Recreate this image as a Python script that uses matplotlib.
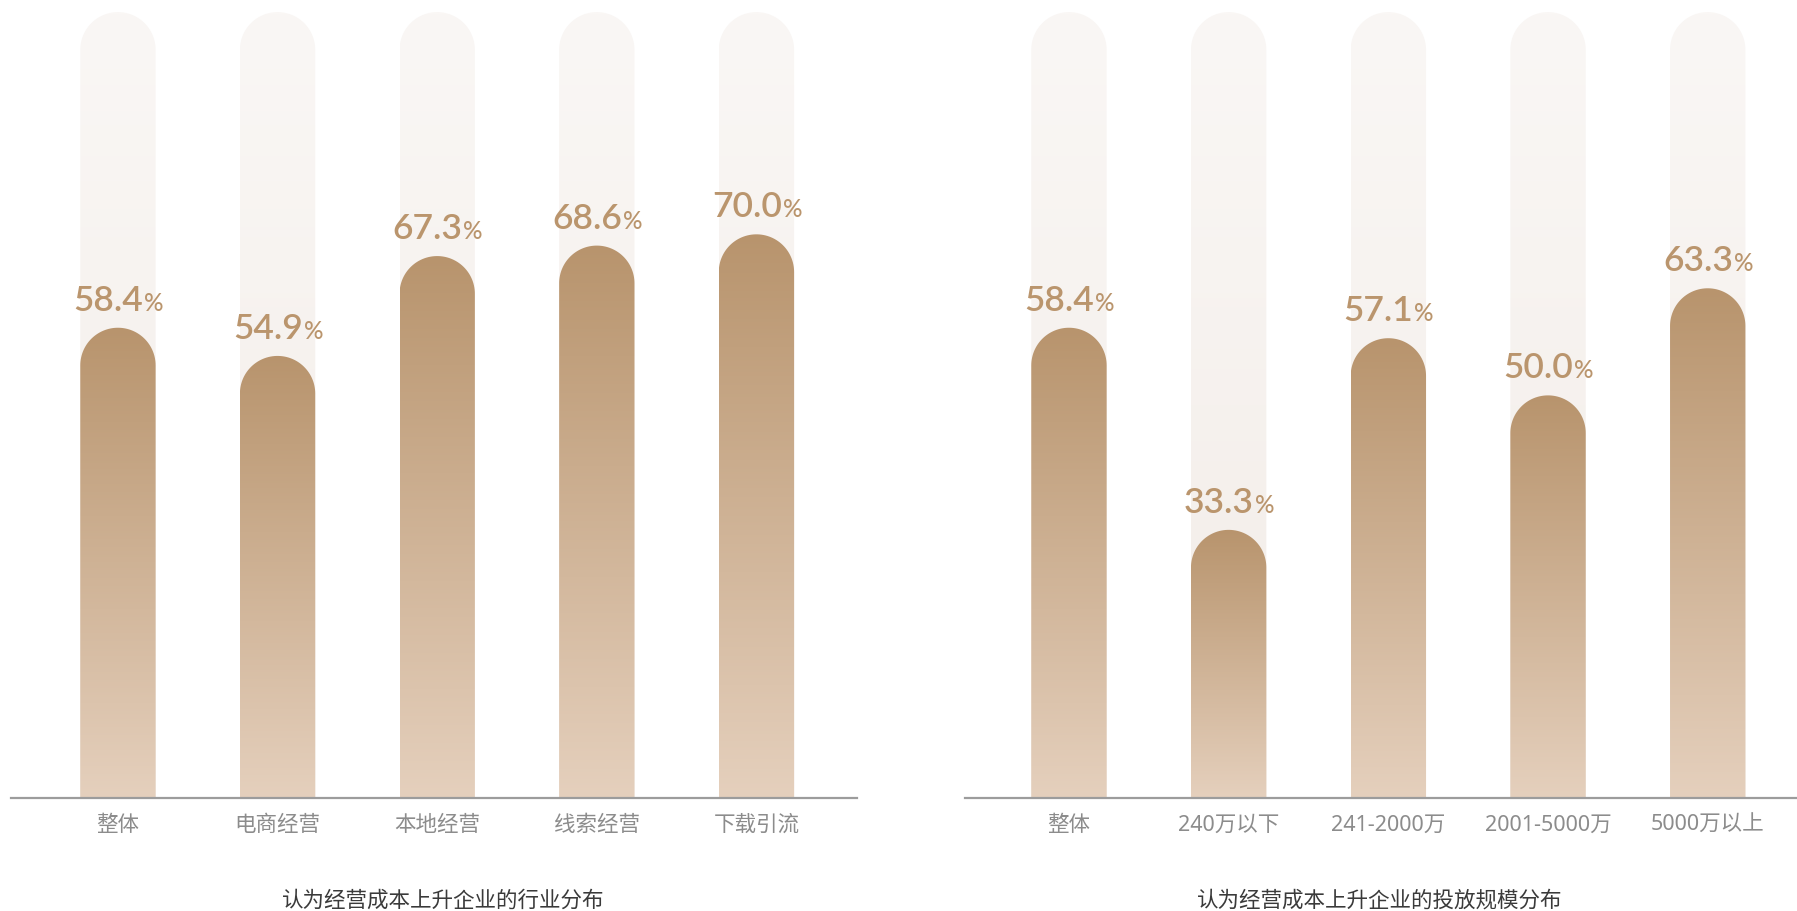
import numpy as np
import matplotlib
matplotlib.use("Agg")
import matplotlib.pyplot as plt
from matplotlib.patches import Polygon
from matplotlib.transforms import offset_copy
from matplotlib.colors import to_rgb

plt.rcParams['font.family'] = ['Noto Sans CJK SC', 'DejaVu Sans']

# ---------------- data ----------------
industry_labels = ["整体", "电商经营", "本地经营", "线索经营", "下载引流"]
industry_values = [58.4, 54.9, 67.3, 68.6, 70.0]
industry_title = "认为经营成本上升企业的行业分布"

scale_labels = ["整体", "240万以下", "241-2000万", "2001-5000万", "5000万以上"]
scale_values = [58.4, 33.3, 57.1, 50.0, 63.3]
scale_title = "认为经营成本上升企业的投放规模分布"

track_value = 97.6   # height of the pale background "track"
y_max = 99.1

# ---------------- style ----------------
W, H = 1797, 911
BAR_TOP = "#B8946D"
BAR_BOTTOM = "#E5D0BD"
TRACK_TOP = "#FAF7F5"
TRACK_BOTTOM = "#F2ECE7"
LABEL_COLOR = "#BA956D"
TICK_COLOR = "#8C8C8C"
TITLE_COLOR = "#3A3A3A"
AXIS_COLOR = "#9C9C9C"
BAR_W = 0.472
TICK_FONT = ["Noto Sans", "Noto Sans CJK SC", "DejaVu Sans"]

fig = plt.figure(figsize=(W / 100, H / 100), dpi=100)

def make_ax(x0_px, x1_px, xlim):
    ax = fig.add_axes([x0_px / W, (H - 798) / H, (x1_px - x0_px) / W, 798 / H])
    ax.set_xlim(*xlim)
    ax.set_ylim(0, y_max)
    for s in ("top", "left", "right"):
        ax.spines[s].set_visible(False)
    ax.spines["bottom"].set_color(AXIS_COLOR)
    ax.spines["bottom"].set_linewidth(1.6)
    ax.spines["bottom"].set_zorder(5)
    ax.set_yticks([])
    ax.tick_params(axis="x", length=0, pad=12, labelsize=15.5, labelcolor=TICK_COLOR)
    return ax

def gradient(c_top, c_bot, n=256):
    a = np.array(to_rgb(c_top)); b = np.array(to_rgb(c_bot))
    t = np.linspace(0, 1, n)[:, None]
    return (a * (1 - t) + b * t)[:, None, :]

def rounded_bar(ax, x, h, w, c_top, c_bot, z):
    p0 = ax.transData.transform((0, 0))
    px = ax.transData.transform((1, 0))[0] - p0[0]
    py = ax.transData.transform((0, 1))[1] - p0[1]
    rx = w / 2
    ry = rx * px / py
    ang = np.linspace(np.pi, 0, 60)
    arc = np.column_stack([x + rx * np.cos(ang), h - ry + ry * np.sin(ang)])
    verts = np.vstack([[x - rx, 0], [x - rx, h - ry], arc, [x + rx, h - ry], [x + rx, 0]])
    patch = Polygon(verts, closed=True, facecolor="none", edgecolor="none",
                    transform=ax.transData)
    ax.add_patch(patch)
    im = ax.imshow(gradient(c_top, c_bot), extent=[x - rx, x + rx, 0, h],
                   origin="upper", aspect="auto", interpolation="bilinear", zorder=z)
    im.set_clip_path(patch)

def draw_panel(ax, labels, values):
    xs = np.arange(len(labels))
    for x, v in zip(xs, values):
        rounded_bar(ax, x, track_value, BAR_W, TRACK_TOP, TRACK_BOTTOM, 1)
        rounded_bar(ax, x, v, BAR_W, BAR_TOP, BAR_BOTTOM, 2)
    ax.set_xticks(xs)
    ax.set_xticklabels(labels, family=TICK_FONT)
    renderer = fig.canvas.get_renderer()
    for x, v in zip(xs, values):
        t1 = ax.text(x, v, f"{v:.1f}", fontsize=25.5, color=LABEL_COLOR,
                     family=["Lato", "DejaVu Sans"], weight="semibold",
                     ha="left", va="baseline", zorder=6)
        t2 = ax.text(x, v, "%", fontsize=17.5, color=LABEL_COLOR,
                     family=["Lato", "DejaVu Sans"], weight="medium",
                     ha="left", va="baseline", zorder=6)
        w1 = t1.get_window_extent(renderer).width
        w2 = t2.get_window_extent(renderer).width
        tot = w1 + w2
        gap = 17
        t1.set_transform(offset_copy(ax.transData, fig=fig, x=-tot / 2, y=gap, units="dots"))
        t2.set_transform(offset_copy(ax.transData, fig=fig, x=-tot / 2 + w1 + 1, y=gap, units="dots"))

ax1 = make_ax(11, 857, (-0.67, 4.63))
ax2 = make_ax(965, 1797, (-0.651, 4.559))
draw_panel(ax1, industry_labels, industry_values)
draw_panel(ax2, scale_labels, scale_values)
ax1.set_xlim(-0.67, 4.63); ax1.set_ylim(0, y_max)
ax2.set_xlim(-0.651, 4.559); ax2.set_ylim(0, y_max)

fig.text(443 / W, 1 - 901 / H, industry_title, ha="center", va="center",
         fontsize=15.5, color=TITLE_COLOR)
fig.text(1380 / W, 1 - 901 / H, scale_title, ha="center", va="center",
         fontsize=15.5, color=TITLE_COLOR)

fig.savefig("out.png", dpi=100, facecolor="white")
